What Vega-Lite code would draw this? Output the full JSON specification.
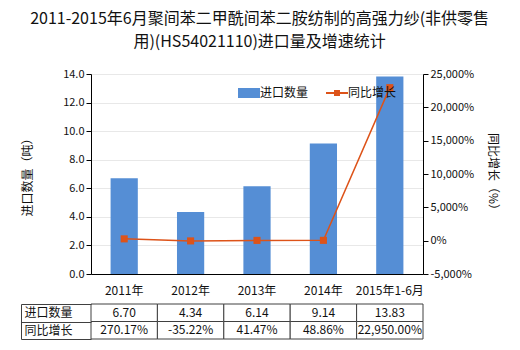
{
  "$schema": "https://vega.github.io/schema/vega-lite/v6.json",
  "background": "white",
  "padding": {"left": 20, "top": 11, "right": 5, "bottom": 5},
  "title": {
    "text": ["2011-2015年6月聚间苯二甲酰间苯二胺纺制的高强力纱(非供零售", "用)(HS54021110)进口量及增速统计"],
    "fontSize": 16,
    "fontWeight": "normal",
    "color": "#111",
    "lineHeight": 23,
    "anchor": "middle",
    "offset": 18
  },
  "config": {
    "font": "Noto Sans CJK SC",
    "view": {"stroke": null}
  },
  "data": {
    "values": [
      {"year": "2011年", "qty": 6.70, "growth": 270.17},
      {"year": "2012年", "qty": 4.34, "growth": -35.22},
      {"year": "2013年", "qty": 6.14, "growth": 41.47},
      {"year": "2014年", "qty": 9.14, "growth": 48.86},
      {"year": "2015年1-6月", "qty": 13.83, "growth": 22950.00}
    ]
  },
  "bounds": "flush",
  "spacing": 30,
  "vconcat": [
    {
      "width": 332,
      "height": 200,
      "encoding": {
        "x": {
          "field": "year", "type": "nominal", "sort": null,
          "scale": {"paddingInner": 0.59, "paddingOuter": 0.295},
          "axis": {"title": null, "labelAngle": 0, "ticks": false, "domainColor": "#000", "labelFontSize": 12, "labelColor": "#111", "labelPadding": 11}
        }
      },
      "layer": [
        {
          "mark": {"type": "bar"},
          "encoding": {
            "y": {
              "field": "qty", "type": "quantitative",
              "scale": {"domain": [0, 14]},
              "axis": {"title": "进口数量（吨）", "values": [0, 2, 4, 6, 8, 10, 12, 14], "format": ".1f", "grid": true, "gridColor": "#e8e8e8", "domainColor": "#000", "tickColor": "#000", "tickSize": 5, "labelFontSize": 11, "labelColor": "#111", "labelPadding": 2, "titleFontSize": 12, "titleFontWeight": "normal", "titleColor": "#111", "titlePadding": 28}
            },
            "color": {
              "datum": "进口数量", "type": "nominal",
              "scale": {"domain": ["进口数量", "同比增长"], "range": ["#558ed5", "#dd5319"]},
              "legend": {
                "orient": "none", "legendX": 152, "legendY": 13, "direction": "horizontal", "title": null,
                "labelFontSize": 12, "labelColor": "#111", "symbolSize": 484, "labelOffset": 5, "columnPadding": 13, "padding": 0,
                "encode": {
                  "symbols": {
                    "update": {
                      "shape": {"signal": "datum.value === '进口数量' ? 'M-1,-0.4545H1V0.4545H-1Z' : 'M-1,0H1M-0.18,-0.18H0.18V0.18H-0.18Z'"},
                      "fill": {"signal": "datum.value === '进口数量' ? '#558ed5' : '#dd5319'"},
                      "stroke": {"value": "#dd5319"},
                      "strokeWidth": {"signal": "datum.value === '进口数量' ? 0 : 2"},
                      "opacity": {"value": 1},
                      "fillOpacity": {"value": 1}
                    }
                  }
                }
              }
            }
          }
        },
        {
          "mark": {"type": "line", "strokeWidth": 1.5, "point": {"filled": true, "shape": "square", "size": 50, "opacity": 1}},
          "encoding": {
            "y": {
              "field": "growth", "type": "quantitative",
              "scale": {"domain": [-5000, 25000]},
              "axis": {"orient": "right", "title": "同比增长（%）", "values": [-5000, 0, 5000, 10000, 15000, 20000, 25000], "labelExpr": "replace(format(datum.value, ','), '−', '-') + '%'", "grid": false, "domainColor": "#000", "tickColor": "#000", "tickSize": 5, "labelFontSize": 11, "labelColor": "#111", "labelPadding": 2, "titleFontSize": 12, "titleFontWeight": "normal", "titleColor": "#111", "titlePadding": 12}
            },
            "color": {"datum": "同比增长", "type": "nominal"}
          }
        }
      ],
      "resolve": {"scale": {"y": "independent"}}
    },
    {
      "width": 332,
      "height": 35,
      "encoding": {
        "x": {"field": "year", "type": "nominal", "sort": null, "scale": {"paddingInner": 0, "paddingOuter": 0}, "axis": null}
      },
      "layer": [
        {
          "mark": {"type": "rect", "fill": "white", "stroke": "#404040", "strokeWidth": 1},
          "encoding": {
            "y": {
              "datum": "进口数量", "type": "nominal",
              "scale": {"domain": ["进口数量", "同比增长"], "paddingInner": 0, "paddingOuter": 0},
              "axis": {"title": null, "orient": "left", "offset": 70, "tickBand": "extent", "tickSize": -70, "ticks": true, "domainColor": "#404040", "tickColor": "#404040", "labelAlign": "left", "labelPadding": 67, "labelFontSize": 12, "labelColor": "#111", "grid": false}
            }
          }
        },
        {
          "mark": {"type": "rect", "fill": "white", "stroke": "#404040", "strokeWidth": 1},
          "encoding": {"y": {"datum": "同比增长", "type": "nominal"}}
        },
        {
          "mark": {"type": "text", "fontSize": 12, "color": "#111"},
          "encoding": {
            "y": {"datum": "进口数量", "type": "nominal"},
            "text": {"field": "qty", "type": "quantitative", "format": ".2f"}
          }
        },
        {
          "mark": {"type": "text", "fontSize": 12, "color": "#111", "text": {"expr": "replace(format(datum.growth, ',.2f'), '−', '-') + '%'"}},
          "encoding": {"y": {"datum": "同比增长", "type": "nominal"}}
        }
      ]
    }
  ]
}
